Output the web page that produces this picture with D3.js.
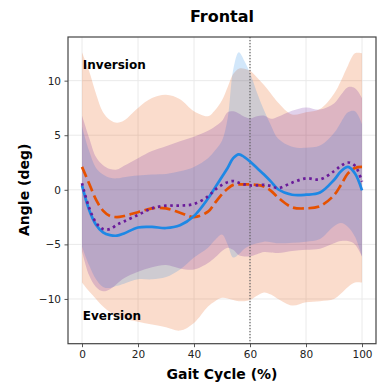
<!DOCTYPE html>
<html>
<head>
<meta charset="utf-8">
<script src="https://cdn.jsdelivr.net/npm/d3@7"></script>
<style>
  body { margin: 0; background: #fff; }
  svg text { font-family: "DejaVu Sans", sans-serif; }
</style>
</head>
<body>
<div class="frontalPlot"></div>
<script>

// gait cycle positions (%)
var gaitX = [0, 2.5, 5, 7.5, 10, 12.5, 15, 20, 25, 30, 35, 40, 45, 47.5, 50, 52, 54, 56, 58, 60,
             62.5, 65, 67.5, 70, 75, 80, 85, 90, 92.5, 95, 97.5, 100];

// orange (dashed) series
var orangeMean = [2.1, 0.6, -0.9, -1.9, -2.4, -2.5, -2.4, -2.05, -1.7, -1.7, -2.1, -2.5, -2.0, -1.2, -0.4, 0.1,
                  0.45, 0.5, 0.5, 0.5, 0.45, 0.3, -0.1, -0.7, -1.6, -1.7, -1.5, -0.5, 0.45, 1.5, 2.0, 2.1];
var orangeHi = [12.6, 10.9, 8.8, 7.1, 6.4, 6.15, 6.35, 7.5, 8.4, 8.7, 8.3, 7.2, 6.75, 7.3, 8.2, 9.4,
                10.6, 11.1, 11.1, 10.9, 10.3, 9.6, 8.8, 8.0, 6.9, 7.1, 7.4, 8.8, 10.0, 11.4, 12.5, 12.5];
var orangeLo = [-8.5, -9.3, -10.0, -10.7, -11.2, -11.6, -11.8, -12.1, -12.35, -12.6, -12.9, -12.2, -10.7, -10.2, -9.9, -9.95,
                -10.1, -10.2, -10.2, -10.1, -9.7, -9.4, -9.6, -10.0, -10.6, -10.3, -10.2, -10.0, -9.5, -8.9, -8.5, -8.5];

// blue (solid) series
var blueMean = [0.4, -1.8, -3.2, -3.9, -4.15, -4.2, -4.0, -3.45, -3.4, -3.5, -3.25, -2.4, -0.8, 0.2, 1.2, 2.0,
                2.9, 3.25, 3.0, 2.6, 2.0, 1.4, 0.75, 0.05, -0.45, -0.45, -0.25, 0.9, 1.7, 2.1, 1.5, -0.05];
var blueHi = [5.8, 3.6, 2.0, 1.4, 1.1, 1.05, 1.15, 1.3, 1.4, 1.45, 1.7, 2.1, 2.9, 3.6, 4.5, 6.5,
              11.0, 12.6, 11.8, 10.7, 8.9, 7.3, 5.9, 4.7, 3.95, 3.85, 4.05, 5.2, 6.2, 7.1, 7.2, 6.0];
var blueLo = [-5.2, -6.9, -8.2, -8.9, -9.0, -8.8, -8.6, -8.2, -8.2, -8.0, -7.3, -6.2, -5.3, -4.6, -4.1, -5.0,
              -6.2, -5.9, -5.4, -5.1, -4.9, -4.75, -4.8, -4.9, -4.85, -4.75, -4.5, -3.35, -3.05, -3.4, -4.3, -6.1];

// purple (dotted) series
var purpleMean = [0.6, -1.6, -3.0, -3.6, -3.6, -3.2, -2.9, -2.3, -1.7, -1.45, -1.45, -1.3, -0.6, 0.0, 0.45, 0.7,
                  0.8, 0.65, 0.5, 0.4, 0.4, 0.45, 0.35, 0.15, 0.65, 1.05, 0.95, 1.7, 2.2, 2.5, 2.2, 0.75];
var purpleHi = [6.8, 4.8, 3.0, 2.25, 1.9, 1.85, 2.2, 2.9, 3.55, 4.0, 4.45, 4.85, 5.4, 5.8, 6.3, 7.1,
                7.2, 7.0, 6.7, 6.55, 6.75, 6.8, 6.5, 6.7, 7.25, 7.55, 7.35, 7.9, 8.7, 9.4, 9.3, 8.4];
var purpleLo = [-5.6, -7.8, -8.9, -9.3, -9.1, -8.6, -8.1, -7.5, -7.1, -6.9, -7.2, -7.3, -6.7, -6.2, -5.6, -5.3,
                -5.5, -6.0, -6.1, -6.1, -5.9, -5.7, -5.75, -5.8, -5.6, -5.5, -5.4, -4.9, -4.7, -4.7, -5.0, -6.1];

var xTicks = [0, 20, 40, 60, 80, 100];
var yTicks = [-10, -5, 0, 5, 10];
var markerX = 60;

var margin = {top: 37, right: 6, bottom: 45.3, left: 68};
var width = 382 - margin.left - margin.right;
var height = 389 - margin.top - margin.bottom;

var svg = d3.select(".frontalPlot").append("svg")
    .attr("width", 382)
    .attr("height", 389);

var g = svg.append("g")
    .attr("transform", "translate(" + margin.left + "," + margin.top + ")");

var x = d3.scaleLinear().domain([-5, 105]).range([0, width]);
var y = d3.scaleLinear().domain([-14.1, 14.0]).range([height, 0]);

//grid lines
g.append("g").selectAll("line")
    .data(xTicks).enter().append("line")
    .attr("x1", function (d) { return x(d); })
    .attr("x2", function (d) { return x(d); })
    .attr("y1", 0).attr("y2", height)
    .attr("stroke", "#e8e8e8").attr("stroke-width", 0.9);

g.append("g").selectAll("line")
    .data(yTicks).enter().append("line")
    .attr("y1", function (d) { return y(d); })
    .attr("y2", function (d) { return y(d); })
    .attr("x1", 0).attr("x2", width)
    .attr("stroke", "#e8e8e8").attr("stroke-width", 0.9);

var series = [
    {mean: orangeMean, hi: orangeHi, lo: orangeLo, color: "#e65100", dash: "11,4.5"},
    {mean: blueMean, hi: blueHi, lo: blueLo, color: "#1e88e5", dash: null},
    {mean: purpleMean, hi: purpleHi, lo: purpleLo, color: "#6a1b9a", dash: "2.6,3.6"}
];

var curve = d3.curveCatmullRom.alpha(0.5);

//shaded bands
series.forEach(function (s) {
    var band = d3.area()
        .x(function (d, i) { return x(gaitX[i]); })
        .y0(function (d, i) { return y(s.lo[i]); })
        .y1(function (d, i) { return y(s.hi[i]); })
        .curve(curve);

    g.append("path")
        .datum(gaitX)
        .attr("d", band)
        .attr("fill", s.color)
        .attr("fill-opacity", 0.2);
});

//vertical marker
g.append("line")
    .attr("x1", x(markerX)).attr("x2", x(markerX))
    .attr("y1", 0).attr("y2", height)
    .attr("stroke", "#666").attr("stroke-width", 1.2)
    .attr("stroke-dasharray", "1.3,1.7");

//mean lines
series.forEach(function (s) {
    var line = d3.line()
        .x(function (d, i) { return x(gaitX[i]); })
        .y(function (d, i) { return y(s.mean[i]); })
        .curve(curve);

    g.append("path")
        .datum(gaitX)
        .attr("d", line)
        .attr("fill", "none")
        .attr("stroke", s.color)
        .attr("stroke-width", 2.7)
        .attr("stroke-dasharray", s.dash);
});

//annotations
g.append("text")
    .attr("x", x(0.3)).attr("y", y(11.1))
    .attr("font-size", "12px").attr("font-weight", "bold")
    .text("Inversion");

g.append("text")
    .attr("x", x(0.3)).attr("y", y(-11.9))
    .attr("font-size", "12px").attr("font-weight", "bold")
    .text("Eversion");

//axes
var xAxis = g.append("g")
    .attr("transform", "translate(0," + height + ")")
    .call(d3.axisBottom(x).tickValues(xTicks).tickSize(3.5).tickPadding(3.5));

var yAxis = g.append("g")
    .call(d3.axisLeft(y).tickValues(yTicks).tickSize(3.5).tickPadding(3.5)
        .tickFormat(function (d) { return d < 0 ? "\u2212" + Math.abs(d) : d; }));

[xAxis, yAxis].forEach(function (a) {
    a.select(".domain").remove();
    a.selectAll("line").attr("stroke", "#444").attr("stroke-width", 0.9);
    a.selectAll("text").attr("font-size", "10.5px").attr("fill", "#222")
        .style("font-family", "DejaVu Sans, sans-serif");
});

//frame
g.append("rect")
    .attr("width", width).attr("height", height)
    .attr("fill", "none")
    .attr("stroke", "#444").attr("stroke-width", 1.2);

//titles
svg.append("text")
    .attr("x", margin.left + width / 2).attr("y", 22)
    .attr("text-anchor", "middle")
    .attr("font-size", "16px").attr("font-weight", "bold")
    .text("Frontal");

svg.append("text")
    .attr("x", margin.left + width / 2).attr("y", 379)
    .attr("text-anchor", "middle")
    .attr("font-size", "14px").attr("font-weight", "bold")
    .text("Gait Cycle (%)");

svg.append("text")
    .attr("transform", "translate(29," + (margin.top + y(0)) + ") rotate(-90)")
    .attr("text-anchor", "middle")
    .attr("font-size", "14px").attr("font-weight", "bold")
    .text("Angle (deg)");

</script>
</body>
</html>
